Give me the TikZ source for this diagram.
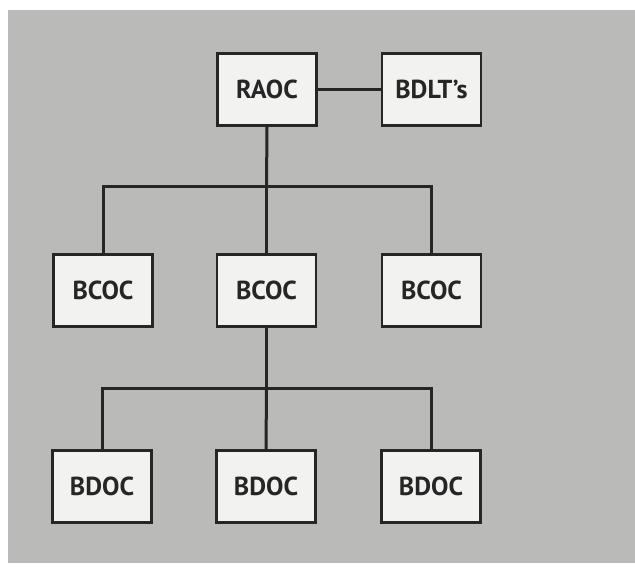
\documentclass[tikz,border=0pt]{standalone}
\usepackage{fontspec}
\setmainfont{PT Sans}
\definecolor{bggray}{RGB}{186,186,184}
\definecolor{boxfill}{RGB}{242,242,240}
\definecolor{ink}{RGB}{38,38,38}
\begin{document}
\begin{tikzpicture}[x=1pt,y=1pt,
  unit/.style={draw=ink,line width=2.6pt,fill=boxfill,minimum width=99pt,minimum height=72pt,inner sep=0pt,font=\fontsize{26}{30}\selectfont\bfseries,text=ink},
  link/.style={draw=ink,line width=3pt}]
\useasboundingbox (0,0) rectangle (635,568);
\fill[white] (0,0) rectangle (635,568);
\fill[bggray] (8,5) rectangle (635,558);
\node[unit] (raoc) at (267,478.5) {RAOC};
\node[unit] (bdlt) at (431.5,478.5) {BDLT's};
\node[unit] (bc1) at (103,277.5) {BCOC};
\node[unit] (bc2) at (266.5,277.5) {BCOC};
\node[unit] (bc3) at (431.5,277.5) {BCOC};
\node[unit] (bd1) at (102,81.5) {BDOC};
\node[unit] (bd2) at (266,81.5) {BDOC};
\node[unit] (bd3) at (431,81.5) {BDOC};
\coordinate (j1) at (266.5,381);
\coordinate (j2) at (266.5,179);
\draw[link] (raoc) -- (bdlt);
\draw[link] (raoc.south) -- (j1);
\draw[link] (bc1.north) |- (j1) -| (bc3.north);
\draw[link] (j1) -- (bc2.north);
\draw[link] (bc2.south) -- (j2);
\draw[link] (bd1.north) |- (j2) -| (bd3.north);
\draw[link] (j2) -- (bd2.north);
\end{tikzpicture}
\end{document}
